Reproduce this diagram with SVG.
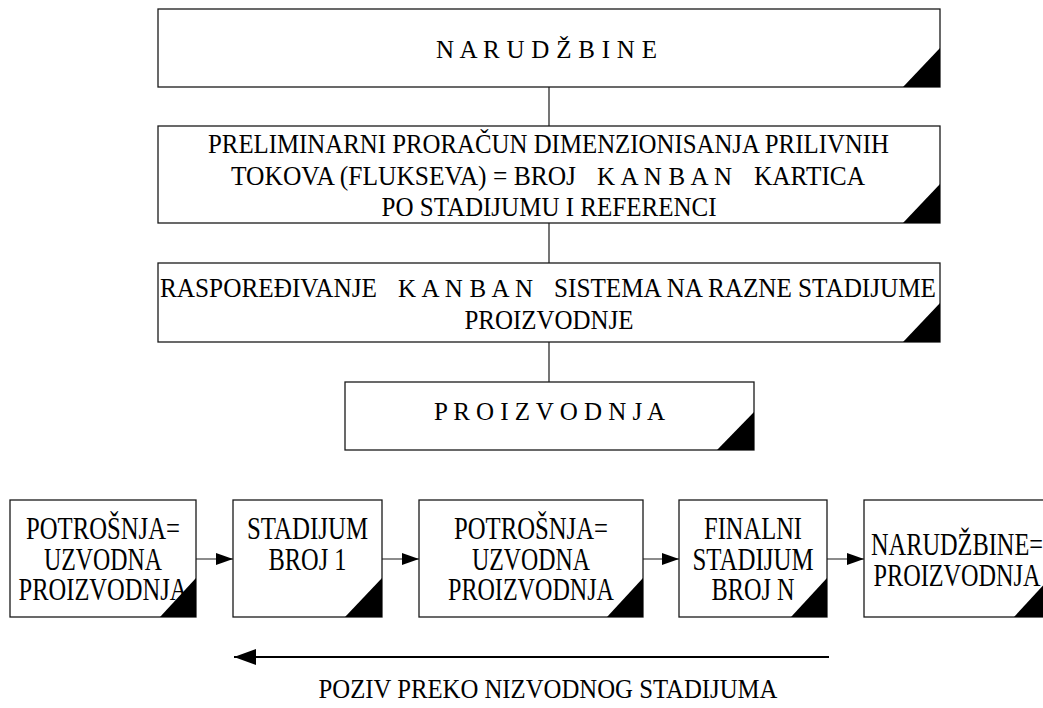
<svg xmlns="http://www.w3.org/2000/svg" width="1043" height="708" viewBox="0 0 1043 708">
  <defs>
    <style>
      .box{fill:#fff;stroke:#1a1a1a;stroke-width:1.3}
      .tri{fill:#000}
      .t{font-family:"Liberation Serif","Times New Roman",serif;fill:#000}
      .sp{font-size:25px}
      .cn{font-size:28px}
      .bt{font-size:31px}
      .lb{font-size:27px}
      .link{stroke:#1a1a1a;stroke-width:1.2;fill:none}
      .flow{stroke:#000;stroke-width:2.2;fill:none}
    </style>
    <marker id="arr" markerUnits="userSpaceOnUse" markerWidth="17" markerHeight="12" refX="17" refY="6" orient="auto">
      <path d="M0,0 L17,6 L0,12 Z" fill="#000"/>
    </marker>
    <marker id="arrBig" markerUnits="userSpaceOnUse" markerWidth="22" markerHeight="16" refX="22" refY="8" orient="auto">
      <path d="M0,0 L22,8 L0,16 Z" fill="#000"/>
    </marker>
  </defs>
  <rect width="1043" height="708" fill="#fff"/>

  <!-- connectors -->
  <g id="connectors">
    <line class="link" x1="549" y1="87" x2="549" y2="126"/>
    <line class="link" x1="549" y1="223" x2="549" y2="263"/>
    <line class="link" x1="549" y1="342" x2="549" y2="382"/>
    <line class="link" x1="196" y1="559" x2="233" y2="559" marker-end="url(#arr)"/>
    <line class="link" x1="382" y1="559" x2="419" y2="559" marker-end="url(#arr)"/>
    <line class="link" x1="643" y1="559" x2="679" y2="559" marker-end="url(#arr)"/>
    <line class="link" x1="827" y1="559" x2="864" y2="559" marker-end="url(#arr)"/>
    <line class="flow" x1="829" y1="657" x2="234" y2="657" marker-end="url(#arrBig)"/>
  </g>

  <!-- upper chain -->
  <g id="narudzbine">
    <rect class="box" x="158" y="9" width="782" height="78"/>
    <path class="tri" d="M903,87 L940,87 L940,48 Z"/>
    <text class="t sp" x="436" y="58" textLength="221" lengthAdjust="spacing">N A R U D Ž B I N E</text>
  </g>

  <g id="proracun">
    <rect class="box" x="158" y="126" width="782" height="97"/>
    <path class="tri" d="M903,223 L940,223 L940,184 Z"/>
    <text class="t cn" x="548.5" y="153" text-anchor="middle" textLength="681" lengthAdjust="spacingAndGlyphs">PRELIMINARNI PRORAČUN DIMENZIONISANJA PRILIVNIH</text>
    <text class="t cn" x="231" y="185" textLength="345" lengthAdjust="spacingAndGlyphs">TOKOVA (FLUKSEVA) = BROJ</text>
    <text class="t sp" x="597" y="185" textLength="135" lengthAdjust="spacing">K A N B A N</text>
    <text class="t cn" x="754" y="185" textLength="111" lengthAdjust="spacingAndGlyphs">KARTICA</text>
    <text class="t cn" x="549" y="216" text-anchor="middle" textLength="335" lengthAdjust="spacingAndGlyphs">PO STADIJUMU I REFERENCI</text>
  </g>

  <g id="rasporedjivanje">
    <rect class="box" x="158" y="263" width="782" height="79"/>
    <path class="tri" d="M903,342 L940,342 L940,303 Z"/>
    <text class="t cn" x="160" y="297" textLength="217" lengthAdjust="spacingAndGlyphs">RASPOREĐIVANJE</text>
    <text class="t sp" x="398" y="297" textLength="135" lengthAdjust="spacing">K A N B A N</text>
    <text class="t cn" x="554" y="297" textLength="382" lengthAdjust="spacingAndGlyphs">SISTEMA NA RAZNE STADIJUME</text>
    <text class="t cn" x="549" y="329" text-anchor="middle" textLength="169" lengthAdjust="spacingAndGlyphs">PROIZVODNJE</text>
  </g>

  <g id="proizvodnja">
    <rect class="box" x="345" y="382" width="409" height="68"/>
    <path class="tri" d="M717,450 L754,450 L754,412 Z"/>
    <text class="t sp" x="434" y="420" textLength="231" lengthAdjust="spacing">P R O I Z V O D N J A</text>
  </g>

  <!-- stage row -->
  <g id="potrosnja1">
    <rect class="box" x="10" y="500" width="186" height="117"/>
    <path class="tri" d="M160,617 L196,617 L196,578 Z"/>
    <text class="t bt" x="103" y="539" text-anchor="middle" textLength="154" lengthAdjust="spacingAndGlyphs">POTROŠNJA=</text>
    <text class="t bt" x="103" y="570" text-anchor="middle" textLength="118" lengthAdjust="spacingAndGlyphs">UZVODNA</text>
    <text class="t bt" x="103" y="600" text-anchor="middle" textLength="169" lengthAdjust="spacingAndGlyphs">PROIZVODNJA</text>
  </g>

  <g id="stadijum1">
    <rect class="box" x="233" y="500" width="149" height="117"/>
    <path class="tri" d="M345,617 L382,617 L382,578 Z"/>
    <text class="t bt" x="307.5" y="539" text-anchor="middle" textLength="121" lengthAdjust="spacingAndGlyphs">STADIJUM</text>
    <text class="t bt" x="307.5" y="570" text-anchor="middle" textLength="78" lengthAdjust="spacingAndGlyphs">BROJ 1</text>
  </g>

  <g id="potrosnja2">
    <rect class="box" x="419" y="500" width="224" height="117"/>
    <path class="tri" d="M607,617 L643,617 L643,578 Z"/>
    <text class="t bt" x="531" y="539" text-anchor="middle" textLength="154" lengthAdjust="spacingAndGlyphs">POTROŠNJA=</text>
    <text class="t bt" x="531" y="570" text-anchor="middle" textLength="118" lengthAdjust="spacingAndGlyphs">UZVODNA</text>
    <text class="t bt" x="531" y="600" text-anchor="middle" textLength="166" lengthAdjust="spacingAndGlyphs">PROIZVODNJA</text>
  </g>

  <g id="finalni">
    <rect class="box" x="679" y="500" width="148" height="117"/>
    <path class="tri" d="M791,617 L827,617 L827,578 Z"/>
    <text class="t bt" x="753" y="539" text-anchor="middle" textLength="98" lengthAdjust="spacingAndGlyphs">FINALNI</text>
    <text class="t bt" x="753" y="570" text-anchor="middle" textLength="121" lengthAdjust="spacingAndGlyphs">STADIJUM</text>
    <text class="t bt" x="753" y="600" text-anchor="middle" textLength="83" lengthAdjust="spacingAndGlyphs">BROJ N</text>
  </g>

  <g id="narudzbine-proizvodnja">
    <rect class="box" x="864" y="500" width="186" height="117"/>
    <path class="tri" d="M1014,617 L1050,617 L1050,578 Z"/>
    <text class="t bt" x="957" y="555" text-anchor="middle" textLength="172" lengthAdjust="spacingAndGlyphs">NARUDŽBINE=</text>
    <text class="t bt" x="957" y="586" text-anchor="middle" textLength="167" lengthAdjust="spacingAndGlyphs">PROIZVODNJA</text>
  </g>

  <!-- pull signal -->
  <text id="poziv" class="t lb" x="548" y="698" text-anchor="middle" textLength="459" lengthAdjust="spacingAndGlyphs">POZIV PREKO NIZVODNOG STADIJUMA</text>
</svg>
